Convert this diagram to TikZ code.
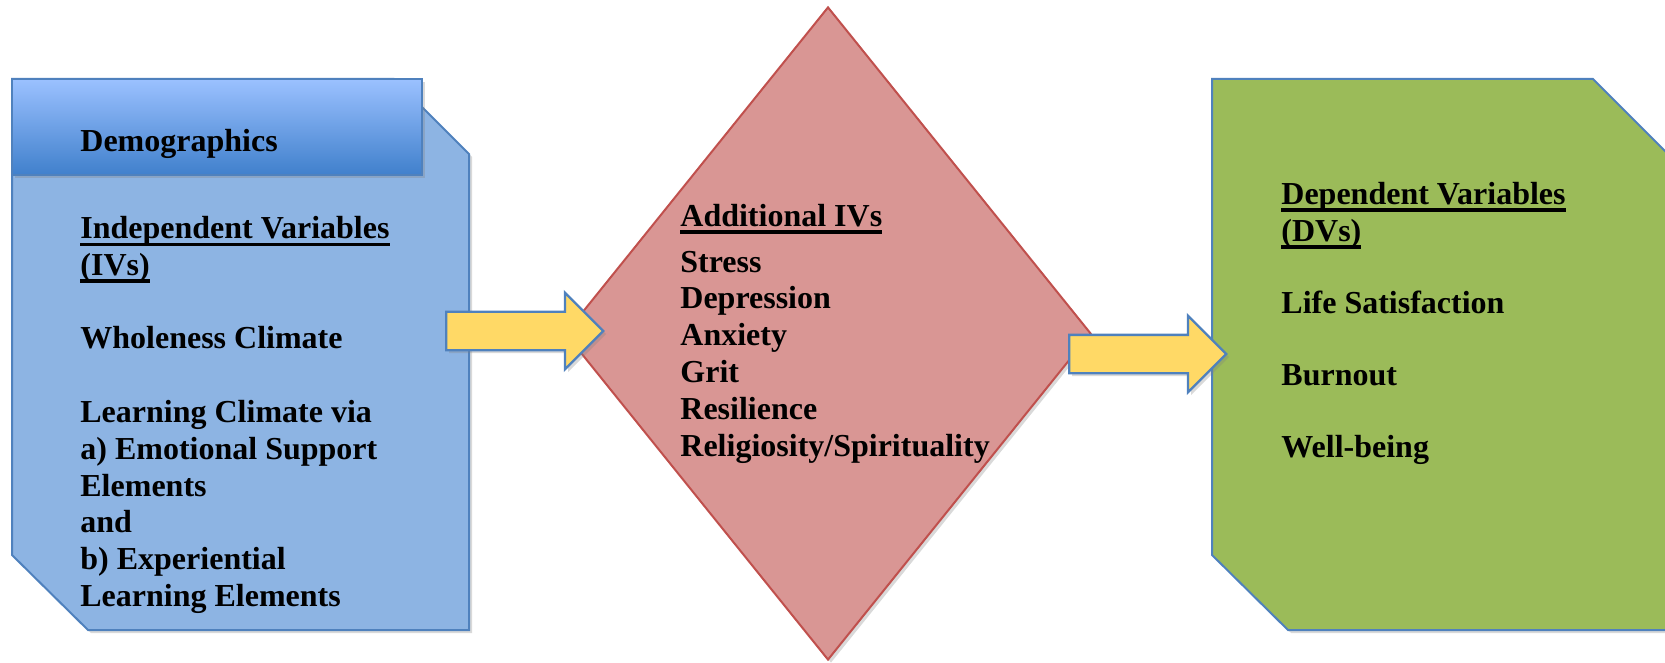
\documentclass[tikz,border=0pt]{standalone}
\usepackage{fontspec}
\setmainfont{Liberation Serif}
\usetikzlibrary{shapes.geometric,shapes.arrows,shadows}

\definecolor{boxblue}{RGB}{141,180,227}
\definecolor{lineblue}{RGB}{79,129,189}
\definecolor{headtop}{RGB}{155,193,255}
\definecolor{headbottom}{RGB}{64,128,204}
\definecolor{rosefill}{RGB}{217,150,148}
\definecolor{roseline}{RGB}{192,80,77}
\definecolor{leafgreen}{RGB}{155,187,89}
\definecolor{arrowgold}{RGB}{255,217,102}

% word-style underline that runs through the descenders
\newcommand{\ulword}[1]{{\setbox0\hbox{#1}\rlap{\rule[-3.7pt]{\wd0}{1.8pt}}\box0}}

\tikzset{
  softshadow/.style={drop shadow={shadow xshift=1.5pt, shadow yshift=-1.5pt, opacity=0.3}},
  varbox/.style={draw=lineblue, line width=1pt, softshadow},
  blockarrow/.style={single arrow, single arrow head extend=9.5pt, single arrow head indent=0pt,
    minimum height=78.5pt, minimum width=37pt, inner xsep=0pt, inner ysep=9pt,
    fill=arrowgold, draw=lineblue, line width=1.2pt, anchor=tail, softshadow},
  boxtext/.style={align=left, anchor=base west, inner sep=0pt,
    font=\fontsize{16}{18.45}\selectfont\bfseries}
}

\begin{document}
\begin{tikzpicture}[x=0.5pt, y=-0.5pt]

	\useasboundingbox (0,0) rectangle (1665,663);

	% the two side blocks, cut at two corners
	\draw[varbox, fill=boxblue] (12,79) -- (394,79) -- (469,154) -- (469,630)
		-- (88,630) -- (12,555) -- cycle;
	\draw[varbox, fill=leafgreen] (1212,79) -- (1593,79) -- (1668,154) -- (1668,630)
		-- (1288,630) -- (1212,555) -- cycle;

	\node[rectangle, minimum width=205pt, minimum height=48pt, inner sep=0pt,
	      top color=headtop, bottom color=headbottom, draw=lineblue, line width=0.8pt,
	      softshadow] (demo) at (217,127) {};
	\node[diamond, minimum width=263pt, minimum height=326.5pt, inner sep=0pt,
	      fill=rosefill, draw=roseline, line width=1pt, softshadow] (addiv) at (828,333.5) {};

	% block arrows
	\node[blockarrow] (arrowa) at (445,331) {};
	\node[blockarrow] (arrowb) at (1068,354) {};

	% texts (anchored on the baseline of the last line)
	\node[boxtext] (demotext) at (80,152) {Demographics};
	\node[boxtext] (ivtext) at (80,606.7) {\ulword{Independent Variables}\\
		\ulword{(IVs)}\\[18.2pt]
		Wholeness Climate\\[18.2pt]
		Learning Climate via\\
		a) Emotional Support\\
		Elements\\
		and\\
		b) Experiential\\
		Learning Elements};
	\node[boxtext] (addtext) at (680,456.5) {\ulword{Additional IVs}\\[4.4pt]
		Stress\\
		Depression\\
		Anxiety\\
		Grit\\
		Resilience\\
		Religiosity/Spirituality};
	\node[boxtext] (dvtext) at (1281,457) {\ulword{Dependent Variables}\\
		\ulword{(DVs)}\\[17.5pt]
		Life Satisfaction\\[17.5pt]
		Burnout\\[17.5pt]
		Well-being};

\end{tikzpicture}
\end{document}
